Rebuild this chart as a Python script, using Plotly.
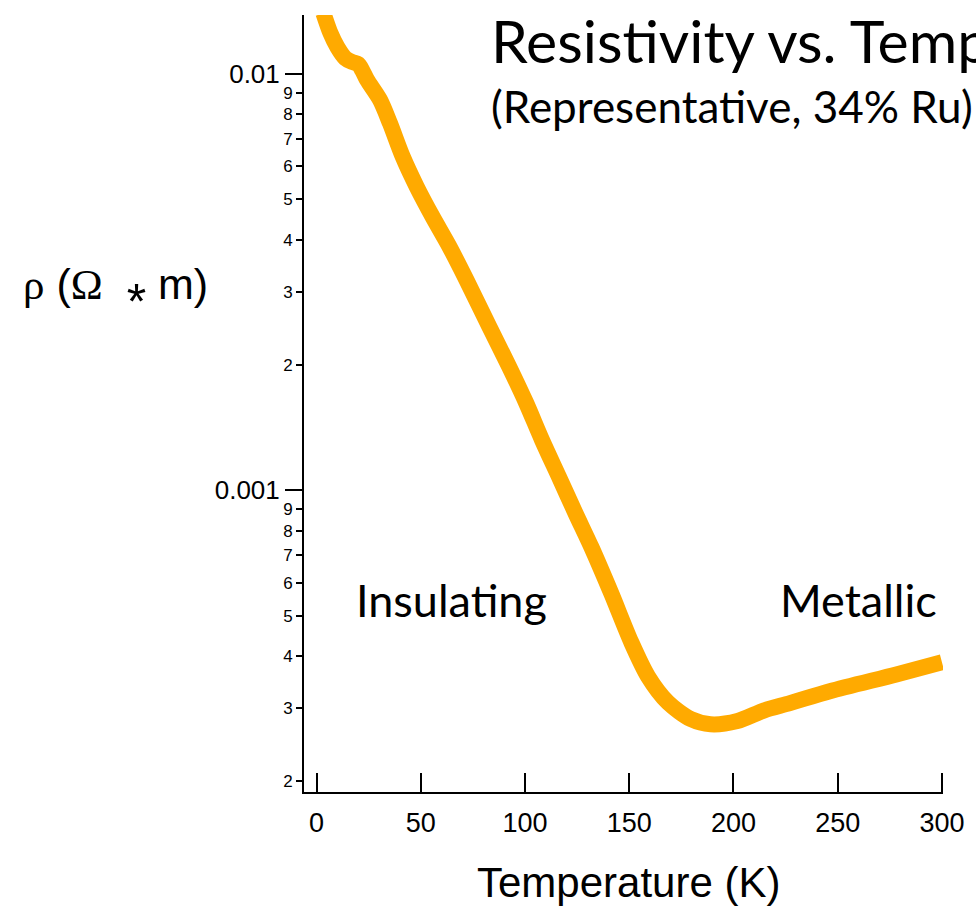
import plotly.graph_objects as go

# Resistivity of a representative 34% Ru sample versus temperature
temperature_k = [3.3, 6.7, 10.0, 13.8, 17.1, 20.0, 21.9, 24.3, 30.5, 35.2, 41.4, 48.1,
                 55.7, 63.8, 71.9, 82.9, 92.4, 100.5, 108.1, 116.2, 124.3, 131.9,
                 141.4, 151.0, 159.0, 168.6, 179.5, 189.0, 201.9, 214.8, 227.1, 246.2,
                 278.1, 300.0]
resistivity_ohm_m = [0.01401, 0.01254, 0.01161, 0.01092, 0.01069, 0.01057, 0.01022,
                     0.009674, 0.008662, 0.007626, 0.006322, 0.005355, 0.004537,
                     0.003845, 0.003203, 0.002470, 0.001981, 0.001624, 0.001323,
                     0.001079, 0.000879, 0.000729, 0.000565, 0.000431, 0.000357,
                     0.000309, 0.000282, 0.000274, 0.000279, 0.000296, 0.000308,
                     0.000329, 0.000361, 0.000386]

# axis ticks
x_ticks = [0, 50, 100, 150, 200, 250, 300]
y_major_vals = [0.001, 0.01]
y_major_text = ["0.001", "0.01"]
y_minor_vals = [2e-4, 3e-4, 4e-4, 5e-4, 6e-4, 7e-4, 8e-4, 9e-4,
                2e-3, 3e-3, 4e-3, 5e-3, 6e-3, 7e-3, 8e-3, 9e-3]
y_minor_text = ["2", "3", "4", "5", "6", "7", "8", "9",
                "2", "3", "4", "5", "6", "7", "8", "9"]

X_RANGE = [-6, 300.5]
Y_RANGE = [-3.725, -1.858]  # log10 units

ORANGE = "#FFAA00"
SANS = "Liberation Sans, Arial, sans-serif"
SERIF = "Liberation Serif"
SLIDE = "Lato, Carlito, Calibri, sans-serif"

fig = go.Figure()
fig.add_trace(go.Scatter(
    x=temperature_k, y=resistivity_ohm_m, mode="lines",
    line=dict(color=ORANGE, width=16, shape="spline", smoothing=0.8),
    showlegend=False, hoverinfo="x+y",
))
# companion trace that carries the decade axis
fig.add_trace(go.Scatter(
    x=temperature_k, y=resistivity_ohm_m, mode="lines", yaxis="y2",
    opacity=0, showlegend=False, hoverinfo="skip",
))

fig.update_layout(
    width=976, height=908,
    margin=dict(l=304, r=30, t=15, b=116),
    paper_bgcolor="white", plot_bgcolor="white",
    xaxis=dict(
        range=X_RANGE, tickmode="array", tickvals=x_ticks,
        ticktext=[str(v) for v in x_ticks],
        ticks="inside", ticklen=19, tickwidth=2, tickcolor="black",
        showline=True, linewidth=2, linecolor="black",
        showgrid=False, zeroline=False,
        tickfont=dict(family=SANS, size=27, color="black"),
        ticklabelstandoff=6,
    ),
    yaxis=dict(
        type="log", range=Y_RANGE, tickmode="array",
        tickvals=y_minor_vals, ticktext=y_minor_text,
        ticks="outside", ticklen=6, tickwidth=2, tickcolor="black",
        showline=True, linewidth=2, linecolor="black",
        showgrid=False, zeroline=False,
        tickfont=dict(family=SANS, size=17, color="black"),
    ),
    yaxis2=dict(
        type="log", range=Y_RANGE, overlaying="y", anchor="x", side="left",
        tickmode="array", tickvals=y_major_vals, ticktext=y_major_text,
        ticks="outside", ticklen=18, tickwidth=2, tickcolor="black",
        showline=False, showgrid=False, zeroline=False,
        tickfont=dict(family=SANS, size=26, color="black"),
    ),
)

NB = "\u00a0"
y_title = (f'<span style="font-family:{SERIF}">ρ</span>{NB}'
           f'(<span style="font-family:{SERIF}">Ω</span>{NB}{NB}'
           '<span style="font-size:50px;baseline-shift:-20px">*</span>'
           f'{NB}m)')

annotations = [
    dict(text="Resistivity vs. Temperature", x=0.2897, y=0.9675, xanchor="left",
         yanchor="middle", font=dict(family=SLIDE, size=59, color="black")),
    dict(text="(Representative, 34% Ru)", x=0.2897, y=0.8829, xanchor="left",
         yanchor="middle", font=dict(family=SLIDE, size=44, color="black")),
    dict(text="Insulating", x=0.0779, y=0.2471, xanchor="left", yanchor="middle",
         font=dict(family=SLIDE, size=45, color="black")),
    dict(text="Metallic", x=0.7414, y=0.2471, xanchor="left", yanchor="middle",
         font=dict(family=SLIDE, size=45, color="black")),
    dict(text=y_title, x=-0.2944, y=0.6396, xanchor="center", yanchor="middle",
         font=dict(family=SANS, size=43, color="black")),
    dict(text="Temperature (K)", x=0.5078, y=-0.1171, xanchor="center",
         yanchor="middle", font=dict(family=SANS, size=42, color="black")),
]
for a in annotations:
    a.update(xref="paper", yref="paper", showarrow=False)
fig.update_layout(annotations=annotations)

fig.write_html("out.html")
